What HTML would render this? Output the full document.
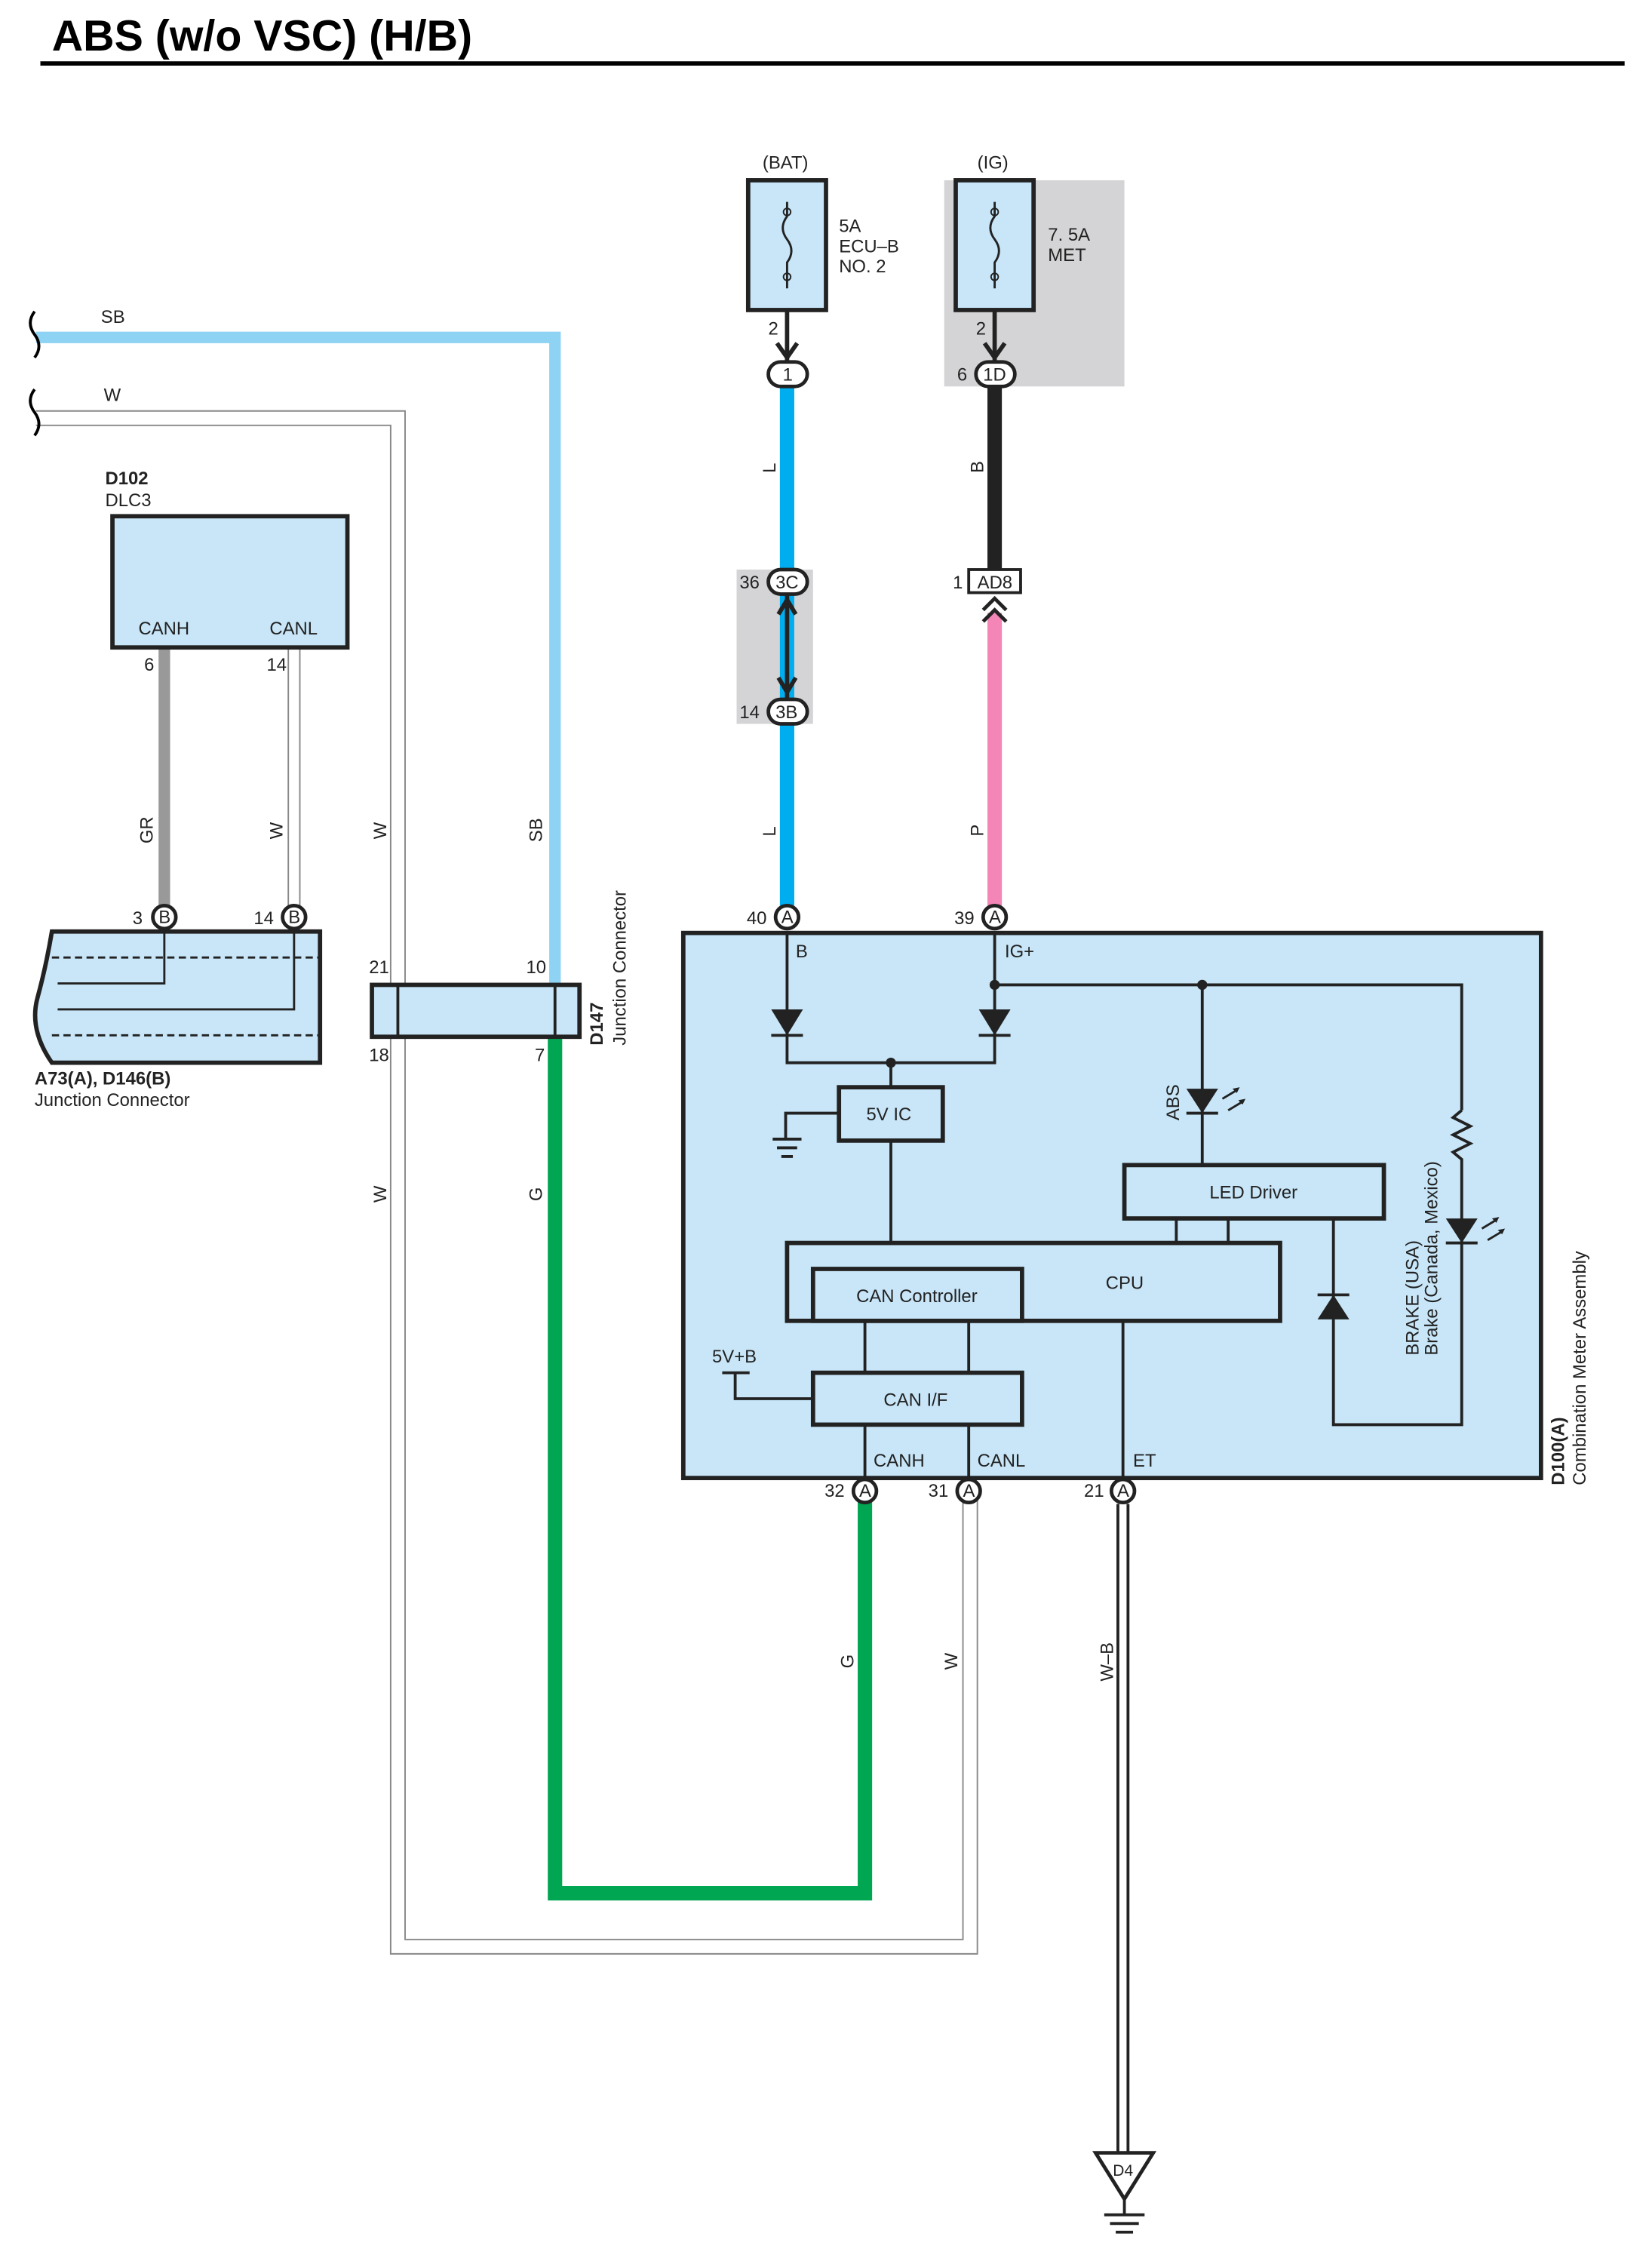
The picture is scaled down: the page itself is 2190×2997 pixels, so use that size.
<!DOCTYPE html>
<html><head><meta charset="utf-8"><style>
html,body{margin:0;padding:0;background:#fff;}
svg{display:block;}
text{font-family:"Liberation Sans",sans-serif;font-size:12.5px;fill:#222;}
</style></head><body>
<svg width="2190" height="2997" viewBox="0 0 1146 1568" preserveAspectRatio="none" xmlns="http://www.w3.org/2000/svg">
<rect width="1146" height="1568" fill="#fff"/>
<text x="36" y="35" style="font-size:30px;font-weight:bold;fill:#000">ABS (w/o VSC) (H/B)</text>
<line x1="28" y1="44" x2="1127" y2="44" stroke="#000" stroke-width="3"/>

<rect x="655" y="125" width="125" height="143" fill="#d4d4d6"/>
<rect x="511" y="395" width="53" height="107" fill="#d4d4d6"/>

<g fill="none">
<path d="M25 290 H276 V1350 H673 V1040" stroke="#888" stroke-width="11"/>
<path d="M25 290 H276 V1350 H673 V1040" stroke="#fff" stroke-width="9"/>
<path d="M204 449 V630" stroke="#888" stroke-width="9"/>
<path d="M204 449 V630" stroke="#fff" stroke-width="7"/>
<path d="M779 1043 V1492" stroke="#222" stroke-width="9"/>
<path d="M779 1043 V1492" stroke="#fff" stroke-width="5"/>
</g>
<path d="M25 234 H385 V683" fill="none" stroke="#8fd3f4" stroke-width="8"/>
<path d="M385 719 V1313 H600 V1040" fill="none" stroke="#00a651" stroke-width="10"/>
<line x1="114" y1="449" x2="114" y2="630" stroke="#999" stroke-width="8"/>
<line x1="546" y1="266" x2="546" y2="628" stroke="#00aeef" stroke-width="10"/>
<line x1="690" y1="266" x2="690" y2="395" stroke="#222" stroke-width="10"/>
<line x1="690" y1="425" x2="690" y2="628" stroke="#f386b7" stroke-width="10"/>

<path d="M24 216 q-6 8 0 16 q6 8 0 16" fill="none" stroke="#000" stroke-width="2"/>
<path d="M24 270 q-6 8 0 16 q6 8 0 16" fill="none" stroke="#000" stroke-width="2"/>
<text x="70" y="224">SB</text><text x="72" y="278">W</text>

<text x="73" y="336" style="font-weight:bold">D102</text><text x="73" y="351">DLC3</text>
<rect x="78" y="358" width="163" height="91" fill="#c8e6f8" stroke="#222" stroke-width="3"/>
<text x="96" y="440">CANH</text><text x="187" y="440">CANL</text>
<text x="100" y="465">6</text><text x="185" y="465">14</text>

<path d="M36 646 H222 V737 H36 Q20 714 26 692 Q32 670 36 646 Z" fill="#c8e6f8" stroke="#222" stroke-width="3"/>
<line x1="36" y1="664" x2="222" y2="664" stroke="#222" stroke-width="1.5" stroke-dasharray="5,3"/>
<line x1="36" y1="718" x2="222" y2="718" stroke="#222" stroke-width="1.5" stroke-dasharray="5,3"/>
<path d="M114 642 V682 H40 M204 642 V700 H40" fill="none" stroke="#222" stroke-width="1.5"/>
<text x="24" y="752" style="font-weight:bold">A73(A), D146(B)</text><text x="24" y="767">Junction Connector</text>

<rect x="258" y="683" width="144" height="36" fill="#c8e6f8" stroke="#222" stroke-width="3"/>
<line x1="276" y1="683" x2="276" y2="719" stroke="#222" stroke-width="2"/>
<line x1="385" y1="683" x2="385" y2="719" stroke="#222" stroke-width="2"/>
<text x="256" y="675">21</text><text x="365" y="675">10</text><text x="256" y="736">18</text><text x="371" y="736">7</text>
<text transform="translate(418,725) rotate(-90)" style="font-weight:bold">D147</text>
<text transform="translate(434,725) rotate(-90)">Junction Connector</text>

<g>
<text transform="translate(106,585) rotate(-90)">GR</text>
<text transform="translate(196,582) rotate(-90)">W</text>
<text transform="translate(268,582) rotate(-90)">W</text>
<text transform="translate(376,584) rotate(-90)">SB</text>
<text transform="translate(268,834) rotate(-90)">W</text>
<text transform="translate(376,833) rotate(-90)">G</text>
<text transform="translate(538,328) rotate(-90)">L</text>
<text transform="translate(538,580) rotate(-90)">L</text>
<text transform="translate(682,328) rotate(-90)">B</text>
<text transform="translate(682,580) rotate(-90)">P</text>
<text transform="translate(592,1157) rotate(-90)">G</text>
<text transform="translate(664,1158) rotate(-90)">W</text>
<text transform="translate(772,1166) rotate(-90)">W–B</text>
</g>

<text x="529" y="117">(BAT)</text>
<rect x="519" y="125" width="54" height="90" fill="#c8e6f8" stroke="#222" stroke-width="3"/>
<path d="M546 140 V150 q-6 8 0 16 q6 8 0 16 V200" fill="none" stroke="#222" stroke-width="1.5"/>
<circle cx="546" cy="147" r="2.5" fill="none" stroke="#222"/><circle cx="546" cy="192" r="2.5" fill="none" stroke="#222"/>
<text x="582" y="161">5A</text><text x="582" y="175">ECU–B</text><text x="582" y="189">NO. 2</text>
<text x="533" y="232">2</text>
<line x1="546" y1="215" x2="546" y2="250" stroke="#222" stroke-width="3"/>
<path d="M539 238 L546 248 L553 238" fill="none" stroke="#222" stroke-width="3"/>

<text x="678" y="117">(IG)</text>
<rect x="663" y="125" width="54" height="90" fill="#c8e6f8" stroke="#222" stroke-width="3"/>
<path d="M690 140 V150 q-6 8 0 16 q6 8 0 16 V200" fill="none" stroke="#222" stroke-width="1.5"/>
<circle cx="690" cy="147" r="2.5" fill="none" stroke="#222"/><circle cx="690" cy="192" r="2.5" fill="none" stroke="#222"/>
<text x="727" y="167">7. 5A</text><text x="727" y="181">MET</text>
<text x="677" y="232">2</text>
<line x1="690" y1="215" x2="690" y2="250" stroke="#222" stroke-width="3"/>
<path d="M683 238 L690 248 L697 238" fill="none" stroke="#222" stroke-width="3"/>

<g stroke="#222" stroke-width="2.5" fill="#fff">
<rect x="533" y="251" width="27" height="17" rx="8.5"/>
<rect x="677" y="251" width="27" height="17" rx="8.5"/>
<rect x="533" y="395" width="27" height="17" rx="8.5"/>
<rect x="533" y="485" width="27" height="17" rx="8.5"/>
</g>
<text x="543" y="264">1</text><text x="682" y="264">1D</text><text x="664" y="264">6</text>
<text x="538" y="408">3C</text><text x="538" y="498">3B</text>
<text x="513" y="408">36</text><text x="513" y="498">14</text>
<path d="M546 412 V485" stroke="#222" stroke-width="3"/>
<path d="M540 426 L546 416 L552 426 M540 470 L546 480 L552 470" fill="none" stroke="#222" stroke-width="3"/>
<rect x="672" y="395" width="36" height="16" fill="#fff" stroke="#222" stroke-width="2"/>
<text x="678" y="408">AD8</text><text x="661" y="408">1</text>
<path d="M682 423 L690 415 L698 423 M682 431 L690 423 L698 431" fill="none" stroke="#222" stroke-width="2.5"/>

<rect x="474" y="647" width="595" height="378" fill="#c8e6f8" stroke="#222" stroke-width="3"/>
<g fill="none" stroke="#222" stroke-width="2">
<path d="M546 647 V737 H690 V647"/>
<path d="M618 737 V754"/>
<path d="M690 683 H1014 V770"/>
<path d="M834 683 V808"/>
<path d="M618 791 V862"/>
<path d="M582 772 H545 V790"/>
<path d="M536 790 H556 M539 796 H553 M542 802 H550"/>
<path d="M1014 770 l-6 5 l12 6 l-12 6 l12 6 l-12 6 l6 5 V988 H925 V845"/>
<path d="M816 845 V862 M852 845 V862"/>
<path d="M600 916 V952 M672 916 V952"/>
<path d="M779 916 V1025"/>
<path d="M600 988 V1025 M672 988 V1025"/>
<path d="M510 952 V970 H564 M501 952 H520"/>
</g>
<g fill="#222">
<path d="M535 700 H557 L546 718 Z"/><line x1="535" y1="718" x2="557" y2="718" stroke="#222" stroke-width="2"/>
<path d="M679 700 H701 L690 718 Z"/><line x1="679" y1="718" x2="701" y2="718" stroke="#222" stroke-width="2"/>
<path d="M823 755 H845 L834 772 Z"/><line x1="823" y1="772" x2="845" y2="772" stroke="#222" stroke-width="2"/>
<path d="M1003 845 H1025 L1014 862 Z"/><line x1="1003" y1="862" x2="1025" y2="862" stroke="#222" stroke-width="2"/>
<path d="M914 915 H936 L925 898 Z"/><line x1="914" y1="898" x2="936" y2="898" stroke="#222" stroke-width="2"/>
<circle cx="618" cy="737" r="3.5"/><circle cx="690" cy="683" r="3.5"/><circle cx="834" cy="683" r="3.5"/>
</g>
<g stroke="#222" stroke-width="1.5" fill="none">
<path d="M848 762 l10 -6 M852 770 l10 -6"/><path d="M1028 852 l10 -6 M1032 860 l10 -6"/>
</g>
<g fill="#222"><path d="M860 754 l-5 1 l3 3z M864 762 l-5 1 l3 3z M1040 844 l-5 1 l3 3z M1044 852 l-5 1 l3 3z"/></g>

<g fill="#c8e6f8" stroke="#222" stroke-width="3">
<rect x="582" y="754" width="72" height="37"/>
<rect x="780" y="808" width="180" height="37"/>
<rect x="546" y="862" width="342" height="54"/>
<rect x="564" y="880" width="145" height="36"/>
<rect x="564" y="952" width="145" height="36"/>
</g>
<text x="601" y="777">5V IC</text>
<text x="839" y="831">LED Driver</text>
<text x="767" y="894">CPU</text>
<text x="594" y="903">CAN Controller</text>
<text x="613" y="975">CAN I/F</text>
<text x="494" y="945">5V+B</text>
<text x="552" y="664">B</text><text x="697" y="664">IG+</text>
<text x="606" y="1017">CANH</text><text x="678" y="1017">CANL</text><text x="786" y="1017">ET</text>
<text transform="translate(818,777) rotate(-90)">ABS</text>
<text transform="translate(984,940) rotate(-90)">BRAKE (USA)</text>
<text transform="translate(997,940) rotate(-90)">Brake (Canada, Mexico)</text>
<text transform="translate(1085,1030) rotate(-90)" style="font-weight:bold">D100(A)</text>
<text transform="translate(1100,1030) rotate(-90)">Combination Meter Assembly</text>

<g stroke="#222" stroke-width="2.5" fill="#fff">
<circle cx="114" cy="636" r="8"/><circle cx="204" cy="636" r="8"/>
<circle cx="546" cy="636" r="8"/><circle cx="690" cy="636" r="8"/>
<circle cx="600" cy="1034" r="8"/><circle cx="672" cy="1034" r="8"/><circle cx="779" cy="1034" r="8"/>
</g>
<g style="font-size:11px">
<text x="110" y="640">B</text><text x="200" y="640">B</text>
<text x="542" y="640">A</text><text x="686" y="640">A</text>
<text x="596" y="1038">A</text><text x="668" y="1038">A</text><text x="775" y="1038">A</text>
</g>
<text x="92" y="641">3</text><text x="176" y="641">14</text>
<text x="518" y="641">40</text><text x="662" y="641">39</text>
<text x="572" y="1038">32</text><text x="644" y="1038">31</text><text x="752" y="1038">21</text>

<path d="M760 1493 H800 L780 1525 Z" fill="#fff" stroke="#222" stroke-width="2.5"/>
<text x="772" y="1509" style="font-size:11px">D4</text>
<path d="M780 1525 V1536 M766 1536 H794 M770 1542 H790 M774 1548 H786" stroke="#222" stroke-width="2" fill="none"/>
</svg>
</body></html>
